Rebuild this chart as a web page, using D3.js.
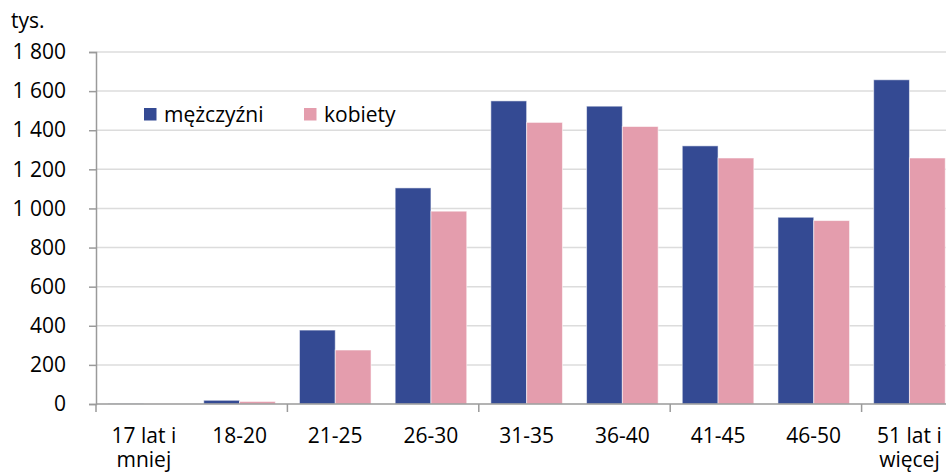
<!DOCTYPE html>
<html>
<head>
<meta charset="utf-8">
<script src="https://cdn.jsdelivr.net/npm/d3@7"></script>
<style>
  body { margin: 0; background: #fff; }
  text { font-family: "Open Sans", "Noto Sans", sans-serif; fill: #000; }
</style>
</head>
<body>
<div id="graph"></div>
<script>
'use strict';

// age groups (x axis)
const categories = ["17 lat i mniej", "18-20", "21-25", "26-30", "31-35", "36-40", "41-45", "46-50", "51 lat i więcej"];
// series names
const seriesNames = ["mężczyźni", "kobiety"];
// values in thousands
const men   = [1, 19, 378, 1105, 1550, 1523, 1320, 955, 1658];
const women = [0.5, 13, 276, 986, 1440, 1419, 1258, 938, 1258];
// y ticks
const yTicks = [0, 200, 400, 600, 800, 1000, 1200, 1400, 1600, 1800];

(function() {

  const colors = { "mężczyźni": "#344a93", "kobiety": "#e49dad" };
  const fontSize = '21px';

  const width = 946, height = 473;
  const plotLeft = 96, plotTop = 52, plotBottom = 404;
  const band = 95.7;

  const svg = d3.select('#graph')
    .append('svg')
    .attr('width', width)
    .attr('height', height);

  // scales
  const xScale = d3.scaleBand()
    .domain(categories)
    .range([plotLeft, plotLeft + band * categories.length]);

  const xInner = d3.scaleBand()
    .domain(seriesNames)
    .range([0, xScale.bandwidth()])
    .paddingOuter(0.337);

  const yScale = d3.scaleLinear()
    .domain([0, 1800])
    .range([plotBottom, plotTop]);

  // format numbers with space as thousands separator
  const locale = d3.formatLocale({ decimal: ",", thousands: " ", grouping: [3], currency: ["", ""] });
  const fmt = locale.format(",d");

  // grid lines
  svg.append('g')
    .selectAll('line')
    .data(yTicks.filter(d => d > 0))
    .enter()
    .append('line')
      .attr('x1', plotLeft)
      .attr('x2', width)
      .attr('y1', d => yScale(d))
      .attr('y2', d => yScale(d))
      .style('stroke', '#dcdcdc')
      .style('stroke-width', 1.5);

  // bars
  const rows = categories.map((c, i) => ({ cat: c, values: [men[i], women[i]] }));
  const groups = svg.append('g')
    .selectAll('g')
    .data(rows)
    .enter()
    .append('g')
      .attr('transform', d => `translate(${xScale(d.cat)},0)`);

  groups.selectAll('rect')
    .data(d => seriesNames.map((s, j) => ({ key: s, value: d.values[j] })))
    .enter()
    .append('rect')
      .attr('x', d => xInner(d.key))
      .attr('y', d => yScale(d.value))
      .attr('width', xInner.bandwidth())
      .attr('height', d => plotBottom - yScale(d.value))
      .style('fill', d => colors[d.key])
      .style('stroke', 'rgba(255,255,255,0.55)')
      .style('stroke-width', 1);

  // y axis
  const yAxis = d3.axisLeft(yScale)
    .tickValues(yTicks)
    .tickSize(7)
    .tickPadding(23)
    .tickFormat(fmt);

  const gy = svg.append('g')
    .attr('transform', `translate(${plotLeft},0)`)
    .call(yAxis);
  gy.select('.domain').style('stroke', '#9a9a9a').style('stroke-width', 1.5);
  gy.selectAll('.tick line').style('stroke', '#9a9a9a').style('stroke-width', 1.5);
  gy.selectAll('.tick text')
    .style('font-size', fontSize)
    .style('font-family', '"Open Sans", sans-serif')
    .attr('fill', '#000');

  // x axis line
  svg.append('line')
    .attr('x1', plotLeft)
    .attr('x2', width)
    .attr('y1', plotBottom)
    .attr('y2', plotBottom)
    .style('stroke', '#9a9a9a')
    .style('stroke-width', 1.5);

  // x tick marks every second category
  svg.append('g')
    .selectAll('line')
    .data(categories.filter((c, i) => i % 2 === 0))
    .enter()
    .append('line')
      .attr('x1', d => xScale(d))
      .attr('x2', d => xScale(d))
      .attr('y1', plotBottom)
      .attr('y2', plotBottom + 8)
      .style('stroke', '#9a9a9a')
      .style('stroke-width', 1.5);

  // x labels, wrapped by words
  const xLabels = svg.append('g')
    .selectAll('text')
    .data(categories)
    .enter()
    .append('text')
      .attr('x', d => xScale(d) + xScale.bandwidth() / 2)
      .attr('y', 443)
      .attr('text-anchor', 'middle')
      .style('font-size', fontSize);

  xLabels.each(function(d) {
    const el = d3.select(this);
    const words = d.split(' ');
    let line = [];
    let tspan = el.append('tspan').attr('x', el.attr('x'));
    words.forEach(w => {
      line.push(w);
      tspan.text(line.join(' '));
      if (tspan.node().getComputedTextLength() > 90 && line.length > 1) {
        line.pop();
        tspan.text(line.join(' '));
        line = [w];
        tspan = el.append('tspan').attr('x', el.attr('x')).attr('dy', 24).text(w);
      }
    });
  });

  // unit label
  svg.append('text')
    .attr('x', 11)
    .attr('y', 28)
    .style('font-size', fontSize)
    .text('tys.');

  // legend
  const legendX = [144, 304];
  seriesNames.forEach((s, i) => {
    svg.append('rect')
      .attr('x', legendX[i])
      .attr('y', 108)
      .attr('width', 12.5)
      .attr('height', 12.5)
      .style('fill', colors[s]);
    svg.append('text')
      .attr('x', legendX[i] + 20)
      .attr('y', 122)
      .style('font-size', fontSize)
      .text(s);
  });

})();
</script>
</body>
</html>
